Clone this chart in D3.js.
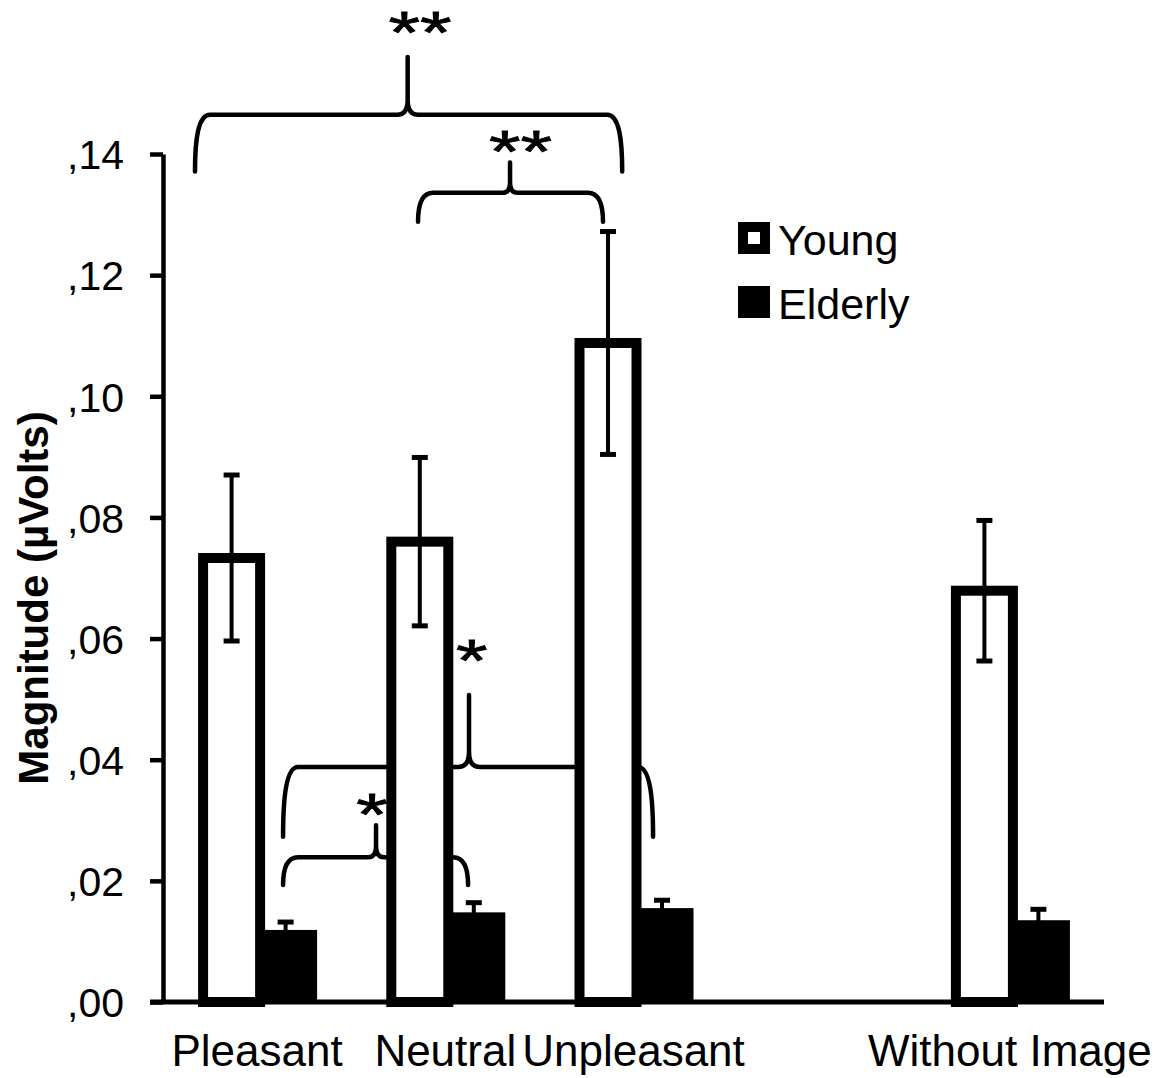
<!DOCTYPE html>
<html>
<head>
<meta charset="utf-8">
<script src="https://cdn.jsdelivr.net/npm/d3@7"></script>
<style>
  body { margin: 0; background: #fff; }
  svg { display: block; font-family: "Liberation Sans", Arial, sans-serif; }
</style>
</head>
<body>
<svg id="chart" width="1172" height="1078"></svg>
<script>
// data
const categories = ["Pleasant", "Neutral", "Unpleasant", "", "Without Image"];
const series = ["Young", "Elderly"];
const youngMeans = [0.0733, 0.0760, 0.1088, null, 0.0679];
const youngErr = [0.0137, 0.0139, 0.0184, null, 0.0116];
const elderlyMeans = [0.0119, 0.0148, 0.0155, null, 0.0135];
const elderlyErr = [0.0013, 0.0016, 0.0013, null, 0.0018];
const yTicks = [0, 0.02, 0.04, 0.06, 0.08, 0.10, 0.12, 0.14];
const yTickLabels = [",00", ",02", ",04", ",06", ",08", ",10", ",12", ",14"];

// significance braces, x in category slots, y in data units
const braceX1 = [0.17, 1.355, 0.638, 0.638];
const braceX2 = [2.44, 2.338, 2.604, 1.621];
const braceXp = [1.30, 1.844, 1.626, 1.132];
const braceYh = [0.1465, 0.1336, 0.0388, 0.0239];
const braceYb = [0.1371, 0.1288, 0.0273, 0.0193];
const braceYt = [0.1560, 0.1386, 0.0507, 0.0292];
const starText = ["**", "**", "*", "*"];
const starX = [1.366, 1.90, 1.64, 1.11];
const starY = [0.1566, 0.1371, 0.0530, 0.0276];

let margin = { top: 154, left: 163, bottom: 76, right: 68 };
let svg = d3.select("#chart");
let width = 1172 - margin.left - margin.right;
let plotBottom = 1002;

let x0 = d3.scaleBand().domain(categories).range([margin.left, margin.left + width]);
let slot = d3.scaleLinear().domain([0, categories.length]).range([margin.left, margin.left + width]);
let y = d3.scaleLinear().domain([0, 0.14]).range([plotBottom, margin.top]);
let barW = 57;

// braces go underneath the bars
let braceGroup = svg.append("g");
braceX1.forEach(function(_, i) {
  let x1 = slot(braceX1[i]), x2 = slot(braceX2[i]), xp = slot(braceXp[i]);
  let yh = y(braceYh[i]), yb = y(braceYb[i]), yt = y(braceYt[i]);
  let r = 15;
  let s = Math.min(15, (yh - yt) * 0.35);
  let sp = s * 0.7;
  let p = "M" + x1 + "," + yb +
    " C" + x1 + "," + (yh + (yb - yh) * 0.45) + " " + (x1 + 3) + "," + yh + " " + (x1 + r) + "," + yh +
    " L" + (xp - sp) + "," + yh +
    " Q" + xp + "," + yh + " " + xp + "," + (yh - s) +
    " L" + xp + "," + yt +
    " L" + xp + "," + (yh - s) +
    " Q" + xp + "," + yh + " " + (xp + sp) + "," + yh +
    " L" + (x2 - r) + "," + yh +
    " C" + (x2 - 3) + "," + yh + " " + x2 + "," + (yh + (yb - yh) * 0.45) + " " + x2 + "," + yb;
  braceGroup.append("path")
    .attr("d", p)
    .attr("fill", "none")
    .attr("stroke", "#000")
    .attr("stroke-width", 4.5)
    .attr("stroke-linecap", "round")
    .attr("stroke-linejoin", "round");
  braceGroup.append("text")
    .attr("transform", "translate(" + slot(starX[i]) + "," + y(starY[i]) + ") scale(1.35,1)")
    .attr("text-anchor", "middle")
    .attr("font-size", 60)
    .attr("stroke", "#000")
    .attr("stroke-width", 0.8)
    .text(starText[i]);
});

function center(i) {
  return x0(categories[i]) + x0.bandwidth() / 2 + 3;
}

let bars = svg.append("g");
categories.forEach(function(c, i) {
  if (youngMeans[i] == null) return;
  let cx = center(i);
  bars.append("rect")
    .attr("x", cx - barW)
    .attr("y", y(youngMeans[i]))
    .attr("width", barW)
    .attr("height", plotBottom - y(youngMeans[i]))
    .attr("fill", "#fff")
    .attr("stroke", "#000")
    .attr("stroke-width", 10);
  bars.append("rect")
    .attr("x", cx)
    .attr("y", y(elderlyMeans[i]))
    .attr("width", barW)
    .attr("height", plotBottom - y(elderlyMeans[i]))
    .attr("fill", "#000");
});

// error bars
let errs = svg.append("g").attr("stroke", "#000");
categories.forEach(function(c, i) {
  if (youngMeans[i] == null) return;
  let cx = center(i);
  [[cx - barW / 2, youngMeans[i], youngErr[i]], [cx + barW / 2 - 3, elderlyMeans[i], elderlyErr[i]]].forEach(function(e) {
    let hi = y(e[1] + e[2]), lo = y(e[1] - e[2]);
    errs.append("line").attr("x1", e[0]).attr("x2", e[0]).attr("y1", hi).attr("y2", lo).attr("stroke-width", 4);
    errs.append("line").attr("x1", e[0] - 8).attr("x2", e[0] + 8).attr("y1", hi).attr("y2", hi).attr("stroke-width", 5);
    errs.append("line").attr("x1", e[0] - 8).attr("x2", e[0] + 8).attr("y1", lo).attr("y2", lo).attr("stroke-width", 5);
  });
});

// Y axis
let yAxis = d3.axisLeft(y)
  .tickValues(yTicks)
  .tickFormat(function(d, i) { return yTickLabels[i]; })
  .tickSizeInner(13)
  .tickSizeOuter(0)
  .tickPadding(26);
let gy = svg.append("g")
  .attr("transform", "translate(" + margin.left + ",0)")
  .call(yAxis);
gy.select(".domain").attr("stroke-width", 4.5);
gy.selectAll(".tick line").attr("stroke-width", 4.5);
gy.selectAll(".tick text")
  .attr("font-size", 41)
  .attr("font-family", "Liberation Sans, Arial, sans-serif")
  .attr("fill", "#000")
  .attr("dy", "0.36em");

// X axis
let xAxis = d3.axisBottom(x0).tickSize(0).tickPadding(33);
let gx = svg.append("g")
  .attr("transform", "translate(0," + plotBottom + ")")
  .call(xAxis);
gx.select(".domain").attr("d", "M" + (margin.left - 13) + ",0H" + (margin.left + width)).attr("stroke-width", 5);
gx.selectAll(".tick text")
  .attr("font-size", 44)
  .attr("font-family", "Liberation Sans, Arial, sans-serif")
  .attr("fill", "#000")
  .attr("dy", "0.71em");

// Y title
svg.append("text")
  .attr("transform", "translate(48,598) rotate(-90)")
  .attr("text-anchor", "middle")
  .attr("font-size", 42)
  .attr("font-weight", "bold")
  .text("Magnitude (µVolts)");

// legend
let legend = svg.append("g").attr("transform", "translate(738,222)");
series.forEach(function(s, i) {
  let g = legend.append("g").attr("transform", "translate(0," + (i * 64) + ")");
  g.append("rect")
    .attr("x", 5).attr("y", 5).attr("width", 22).attr("height", 22)
    .attr("fill", i == 0 ? "#fff" : "#000")
    .attr("stroke", "#000")
    .attr("stroke-width", 10);
  g.append("text")
    .attr("x", 40).attr("y", 33)
    .attr("font-size", 43)
    .text(s);
});
</script>
</body>
</html>
